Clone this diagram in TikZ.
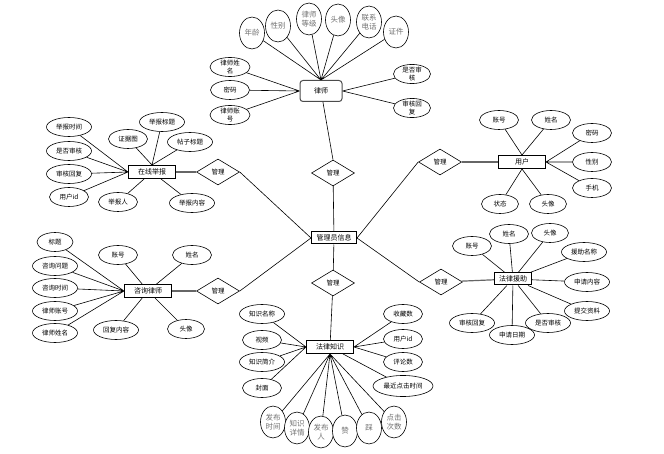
\documentclass[tikz,border=0pt]{standalone}
\usepackage{fontspec}
\newfontfamily\cjk{Noto Sans CJK SC}
\usetikzlibrary{shapes.geometric}
\tikzset{every node/.style={font=\cjk\fontsize{6.5}{7.5}\selectfont}}

\begin{document}
\begin{tikzpicture}[x=1pt, y=-1pt, line width=0.6pt,
entity_box/.style={rectangle, draw=black, line width=1pt, fill=white, minimum width=47pt, minimum height=13pt, inner sep=1pt, font=\cjk\fontsize{7}{8}\selectfont},
attr_oval/.style={ellipse, draw=black, fill=white, minimum width=39pt, minimum height=19pt, inner sep=0pt, align=center},
wide_oval/.style={attr_oval, minimum width=45pt},
tall_oval/.style={ellipse, draw=black, fill=white, minimum width=25pt, minimum height=32pt, inner sep=0pt, align=center, text=black!55, font=\cjk\fontsize{7.5}{9}\selectfont},
rel_diamond/.style={diamond, draw=black, fill=white, minimum width=43pt, minimum height=26pt, inner sep=0pt},
link_thick/.style={draw=black!60, line width=1.2pt}]

    \useasboundingbox (0,0) rectangle (664,454);

    % lawyer
    \node[entity_box, rounded corners=3pt, draw=black!70, minimum width=42pt, minimum height=21pt] (lawyer) at (321,91) {律师};
    \node[tall_oval] (l_age) at (252,33) {年龄};
    \node[tall_oval] (l_sex) at (278,26) {性别};
    \node[tall_oval] (l_level) at (309,19) {律师\\等级};
    \node[tall_oval] (l_photo) at (338,20) {头像};
    \node[tall_oval] (l_tel) at (369,22) {联系\\电话};
    \node[tall_oval] (l_cert) at (396,32) {证件};
    \node[attr_oval, minimum width=40pt] (l_name) at (230,67) {律师姓\\名};
    \node[attr_oval] (l_pwd) at (230,90) {密码};
    \node[attr_oval, minimum width=40pt] (l_acc) at (230,115) {律师账\\号};
    \node[attr_oval, minimum width=37pt] (l_check) at (412,74) {是否审\\核};
    \node[attr_oval, minimum width=37pt] (l_reply) at (412,108) {审核回\\复};
    \draw (l_age) -- (lawyer.north) (l_sex) -- (lawyer.north) (l_level) -- (lawyer.north)
          (l_photo) -- (lawyer.north) (l_tel) -- (lawyer.north) (l_cert) -- (lawyer.north);
    \draw (l_name) -- (lawyer.west) (l_pwd) -- (lawyer.west) (l_acc) -- (lawyer.west);
    \draw (l_check) -- (lawyer.east) (l_reply) -- (lawyer.east);

    % online report
    \node[entity_box] (report) at (152,172) {在线举报};
    \node[wide_oval] (r_time) at (69,127) {举报时间};
    \node[wide_oval] (r_check) at (69,151) {是否审核};
    \node[wide_oval] (r_reply) at (69,174) {审核回复};
    \node[attr_oval] (r_uid) at (69,197) {用户id};
    \node[attr_oval] (r_proof) at (128,139) {证据图};
    \node[wide_oval] (r_title) at (162,122) {举报标题};
    \node[wide_oval] (r_post) at (190,142) {帖子标题};
    \node[attr_oval] (r_who) at (118,202) {举报人};
    \node[wide_oval] (r_text) at (192,203) {举报内容};
    \node[rel_diamond] (m_report) at (218,172) {管理};
    \draw (r_time) -- (report.west) (r_check) -- (report.west) (r_reply) -- (report.west) (r_uid) -- (report.west);
    \draw (r_proof) -- (report.north) (r_title) -- (report.north) (r_post) -- (report.north);
    \draw (r_who) -- (report) (r_text) -- (report);

    % consult lawyer
    \node[entity_box] (consult) at (148,291) {咨询律师};
    \node[attr_oval, minimum width=36pt] (c_title) at (55,242) {标题};
    \node[wide_oval] (c_question) at (55,266) {咨询问题};
    \node[wide_oval] (c_time) at (55,288) {咨询时间};
    \node[wide_oval] (c_lacc) at (55,311) {律师账号};
    \node[wide_oval] (c_lname) at (55,333) {律师姓名};
    \node[attr_oval] (c_acc) at (118,255) {账号};
    \node[attr_oval] (c_name) at (192,255) {姓名};
    \node[wide_oval] (c_reply) at (116,330) {回复内容};
    \node[attr_oval, minimum width=37pt] (c_photo) at (186,329) {头像};
    \node[rel_diamond] (m_consult) at (218,291) {管理};
    \draw (c_title) -- (consult.west) (c_question) -- (consult.west) (c_time) -- (consult.west)
          (c_lacc) -- (consult.west) (c_lname) -- (consult.west);
    \draw (c_acc) -- (consult) (c_name) -- (consult) (c_reply) -- (consult) (c_photo) -- (consult);

    % user
    \node[entity_box] (user) at (522,162) {用户};
    \node[attr_oval] (u_acc) at (499,120) {账号};
    \node[attr_oval] (u_name) at (551,120) {姓名};
    \node[attr_oval] (u_pwd) at (592,133) {密码};
    \node[attr_oval] (u_sex) at (592,162) {性别};
    \node[attr_oval] (u_tel) at (592,188) {手机};
    \node[attr_oval, minimum width=37pt] (u_state) at (500,204) {状态};
    \node[attr_oval, minimum width=37pt] (u_photo) at (548,204) {头像};
    \node[rel_diamond] (m_user) at (440,162) {管理};
    \draw (u_acc) -- (user.north) (u_name) -- (user.north);
    \draw (u_pwd) -- (user.east) (u_sex) -- (user.east) (u_tel) -- (user.east);
    \draw (u_state) -- (user.south) (u_photo) -- (user.south);

    % legal aid
    \node[entity_box, minimum width=37pt, minimum height=12pt] (aid) at (513,279) {法律援助};
    \node[attr_oval] (a_acc) at (472,246) {账号};
    \node[attr_oval] (a_name) at (509,234) {姓名};
    \node[attr_oval, minimum width=37pt] (a_photo) at (550,233) {头像};
    \node[wide_oval] (a_title) at (584,252) {援助名称};
    \node[wide_oval] (a_apply) at (587,282) {申请内容};
    \node[wide_oval] (a_file) at (587,311) {提交资料};
    \node[wide_oval] (a_reply) at (472,323) {审核回复};
    \node[wide_oval] (a_date) at (512,335) {申请日期};
    \node[wide_oval] (a_check) at (548,323) {是否审核};
    \node[rel_diamond] (m_aid) at (441,282) {管理};
    \draw (a_acc) -- (aid) (a_name) -- (aid) (a_photo) -- (aid) (a_title) -- (aid) (a_apply) -- (aid)
          (a_file) -- (aid) (a_reply) -- (aid) (a_date) -- (aid) (a_check) -- (aid);

    % legal knowledge
    \node[entity_box] (know) at (330,347) {法律知识};
    \node[wide_oval] (k_name) at (262,314) {知识名称};
    \node[attr_oval] (k_video) at (262,340) {视频};
    \node[wide_oval] (k_intro) at (262,362) {知识简介};
    \node[attr_oval] (k_cover) at (262,388) {封面};
    \node[attr_oval] (k_fav) at (403,314) {收藏数};
    \node[attr_oval] (k_uid) at (403,339) {用户id};
    \node[attr_oval] (k_cmt) at (403,362) {评论数};
    \node[attr_oval, minimum width=60pt, minimum height=21pt] (k_last) at (403,386) {最近点击时间};
    \node[tall_oval] (k_time) at (273,422) {发布\\时间};
    \node[tall_oval] (k_detail) at (297,428) {知识\\详情};
    \node[tall_oval] (k_author) at (321,432) {发布\\人};
    \node[tall_oval] (k_up) at (345,431) {赞};
    \node[tall_oval] (k_down) at (369,428) {踩};
    \node[tall_oval] (k_click) at (394,422) {点击\\次数};
    \node[rel_diamond] (m_know) at (333,283) {管理};
    \draw (k_name) -- (know.west) (k_video) -- (know.west) (k_intro) -- (know.west) (k_cover) -- (know.west);
    \draw (k_fav) -- (know.east) (k_uid) -- (know.east) (k_cmt) -- (know.east) (k_last) -- (know);
    \draw (k_time) -- (know.south) (k_detail) -- (know.south) (k_author) -- (know.south)
          (k_up) -- (know.south) (k_down) -- (know.south) (k_click) -- (know.south);

    % admin
    \node[entity_box, minimum width=45pt, minimum height=12pt] (admin) at (334,238) {管理员信息};
    \node[rel_diamond] (m_top) at (333,173) {管理};
    \draw (lawyer) -- (m_top.north);
    \draw (m_top) -- (admin);
    \draw (admin) -- (m_know);
    \draw (m_know) -- (know);
    \draw[link_thick] (report) -- (m_report);
    \draw[link_thick] (consult) -- (m_consult);
    \draw[link_thick] (user) -- (m_user);
    \draw[link_thick] (aid) -- (m_aid);
    \draw (m_report.east) -- (admin.west);
    \draw (m_consult.east) -- (admin.west);
    \draw (m_user.west) -- (admin.east);
    \draw (m_aid.west) -- (admin.east);
\end{tikzpicture}
\end{document}
